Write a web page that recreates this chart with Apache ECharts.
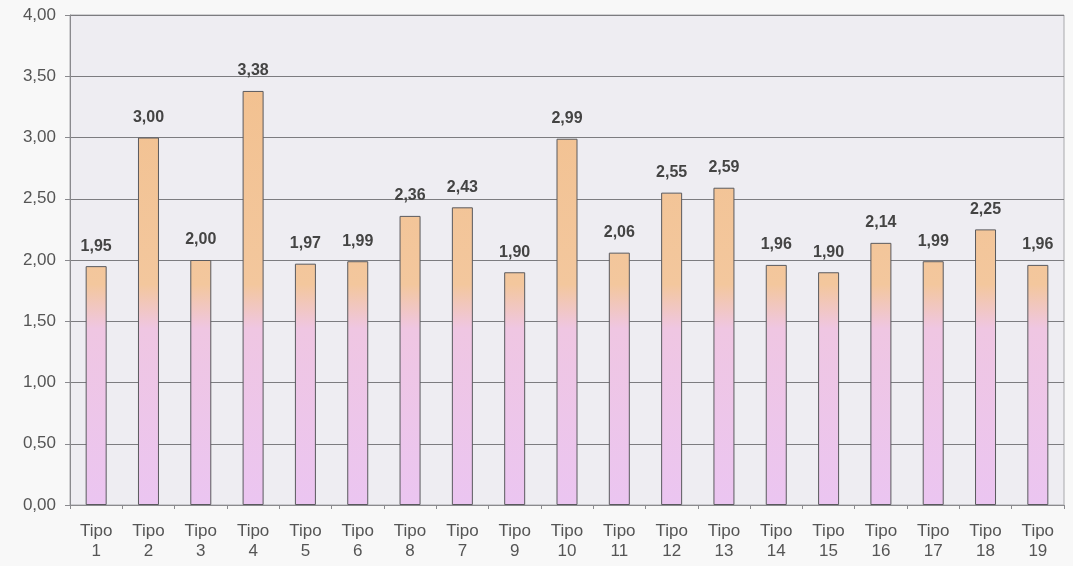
<!DOCTYPE html>
<html>
<head>
<meta charset="utf-8">
<script src="https://cdn.jsdelivr.net/npm/echarts@6/dist/echarts.min.js"></script>
<style>
  html, body { margin: 0; padding: 0; background: #f8f8f8; }
  #chart { width: 1073px; height: 566px; }
</style>
</head>
<body>
<div id="chart"></div>
<script>
// Categories as they appear along the axis (8 comes before 7)
const categories = ['1', '2', '3', '4', '5', '6', '8', '7', '9', '10', '11', '12', '13', '14', '15', '16', '17', '18', '19'];
const values = [1.95, 3.00, 2.00, 3.38, 1.97, 1.99, 2.36, 2.43, 1.90, 2.99, 2.06, 2.55, 2.59, 1.96, 1.90, 2.14, 1.99, 2.25, 1.96];
const yTicks = { min: 0, max: 4, interval: 0.5 };

const fmt = v => v.toFixed(2).replace('.', ',');
const FONT = 'Liberation Sans, Arial, sans-serif';

const gridTop = 15, gridBottom = 61, H = 566;
const plotBottomPx = H - gridBottom;

const chart = echarts.init(document.getElementById('chart'));

// Gradient in chart pixel space so every bar shares the same orange→pink band
const barFill = new echarts.graphic.LinearGradient(0, gridTop, 0, plotBottomPx, [
  { offset: 0.0, color: '#f2bf8c' },
  { offset: 0.55, color: '#f3c79d' },
  { offset: 0.64, color: '#efc6e2' },
  { offset: 1.0, color: '#ebc5f1' }
], true);

chart.setOption({
  backgroundColor: '#f8f8f8',
  animation: false,
  grid: {
    left: 70, right: 9, top: gridTop, bottom: gridBottom,
    show: true, backgroundColor: '#eeedf2', borderColor: '#a8a8ac', borderWidth: 1
  },
  xAxis: {
    type: 'category',
    data: categories.map(c => 'Tipo\n' + c),
    axisLine: { lineStyle: { color: '#8a8a8e', width: 1 } },
    axisTick: { show: true, length: 4, lineStyle: { color: '#8a8a8e' } },
    axisLabel: {
      color: '#555', fontSize: 17, lineHeight: 20, margin: 16,
      fontFamily: FONT, interval: 0
    }
  },
  yAxis: {
    type: 'value',
    min: yTicks.min, max: yTicks.max, interval: yTicks.interval,
    axisLine: { show: true, lineStyle: { color: '#8a8a8e', width: 1 } },
    axisTick: { show: true, length: 5, lineStyle: { color: '#8a8a8e' } },
    splitLine: { lineStyle: { color: '#7c7c80', width: 1 } },
    axisLabel: {
      color: '#555', fontSize: 17, margin: 14,
      fontFamily: FONT,
      formatter: v => fmt(v)
    }
  },
  series: [{
    type: 'bar',
    data: values,
    barWidth: 21,
    itemStyle: { color: barFill, borderColor: '#5a5a5e', borderWidth: 1 },
    label: {
      show: true, position: 'top', distance: 12,
      color: '#444', fontSize: 16, fontWeight: 'bold',
      fontFamily: FONT,
      formatter: p => fmt(p.value)
    }
  }]
});
</script>
</body>
</html>
